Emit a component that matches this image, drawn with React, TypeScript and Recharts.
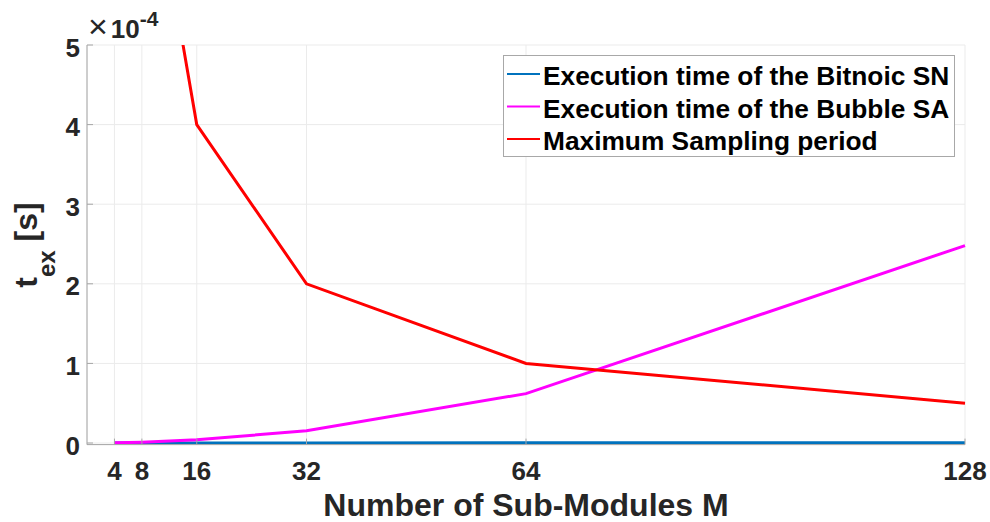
import React from "react";
import { LineChart, Line, XAxis, YAxis, CartesianGrid, Legend, Label } from "recharts";

// Number of sub-modules M
const subModules = [4, 8, 16, 32, 64, 128];
// Execution time of the Bitonic sorting network [s]
const bitonicTime = [1.2e-8, 3.6e-8, 8.0e-8, 1.5e-7, 2.5e-7, 3.9e-7];
// Execution time of the bubble sorting array [s]
const bubbleTime = [2.5e-7, 1.0e-6, 4.0e-6, 1.55e-5, 6.2e-5, 2.48e-4];
// Maximum sampling period [s]
const samplingPeriod = [1.6e-3, 8.0e-4, 4.0e-4, 2.0e-4, 1.0e-4, 5.0e-5];

const xTicks = [4, 8, 16, 32, 64, 128];
const yTicks = [0, 1e-4, 2e-4, 3e-4, 4e-4, 5e-4];

const seriesNames = [
  "Execution time of the Bitnoic SN",
  "Execution time of the Bubble SA",
  "Maximum Sampling period",
];
const seriesColors = ["#0072bd", "#ff00ff", "#ff0000"];

const data = subModules.map((m, i) => ({
  m,
  bitonic: bitonicTime[i],
  bubble: bubbleTime[i],
  sampling: samplingPeriod[i],
}));

const FONT = '"Liberation Sans", Arial, Helvetica, sans-serif';
const TEXT = "#262626";
const AXIS = "#a6a6a6";
const TICK_LEN = 6;

const W = 990;
const H = 522;
const PLOT_LEFT = 87;
const PLOT_RIGHT = 965;
const PLOT_TOP = 45;
// the lower edge sits a hair below zero so the series lying on zero keep their full stroke
const PLOT_BOTTOM = 444.6;
const Y_MIN = -2e-6;
const Y_MAX = 5e-4;

const XTick = (props: any) => {
  const { x, y, payload } = props;
  return (
    <g>
      <line x1={x} y1={y} x2={x} y2={y - TICK_LEN} stroke={AXIS} strokeWidth={1} />
      <text x={x} y={480} textAnchor="middle" fontFamily={FONT} fontWeight="bold" fontSize={26} fill={TEXT}>
        {payload.value}
      </text>
    </g>
  );
};

const XTopTick = (props: any) => {
  const { x, y } = props;
  return <line x1={x} y1={y} x2={x} y2={y + TICK_LEN} stroke={AXIS} strokeWidth={1} />;
};

const YTick = (props: any) => {
  const { x, y, payload } = props;
  return (
    <g>
      <line x1={x} y1={y} x2={x + TICK_LEN} y2={y} stroke={AXIS} strokeWidth={1} />
      <text x={x - 7} y={y + 11.5} textAnchor="end" fontFamily={FONT} fontWeight="bold" fontSize={26} fill={TEXT}>
        {Math.round(payload.value * 1e4)}
      </text>
    </g>
  );
};

const YRightTick = (props: any) => {
  const { x, y } = props;
  return <line x1={x} y1={y} x2={x - TICK_LEN} y2={y} stroke={AXIS} strokeWidth={1} />;
};

const XTitle = () => (
  <text x={(PLOT_LEFT + PLOT_RIGHT) / 2} y={516} textAnchor="middle" fontFamily={FONT} fontWeight="bold" fontSize={32} fill={TEXT}>
    Number of Sub-Modules M
  </text>
);

const YTitle = () => (
  <text
    x={37}
    y={245}
    transform="rotate(-90 37 245)"
    textAnchor="middle"
    fontFamily={FONT}
    fontWeight="bold"
    fontSize={32}
    fill={TEXT}
  >
    t
    <tspan fontSize={24} dy={18}>ex</tspan>
    <tspan dy={-18}> [s]</tspan>
  </text>
);

const Exponent = () => (
  <text x={88} y={38} fontFamily={FONT} fontSize={26} fill={TEXT}>
    <tspan fontWeight="normal" fontSize={34}>×</tspan>
    <tspan fontWeight="bold" dx={3}>10</tspan>
    <tspan fontWeight="bold" fontSize={21} dy={-12}>-4</tspan>
  </text>
);

const LegendBox = (props: any) => {
  const payload = props.payload || [];
  return (
    <svg width={452} height={102} style={{ display: "block" }}>
      <rect x={0.5} y={0.5} width={451} height={101} fill="#ffffff" stroke="#a8a8a8" strokeWidth={1} />
      {payload.map((entry: any, i: number) => (
        <g key={i}>
          <line x1={4} y1={19 + i * 32.5} x2={37} y2={19 + i * 32.5} stroke={entry.color} strokeWidth={2} />
          <text x={40} y={30 + i * 32.5} fontFamily={FONT} fontWeight="bold" fontSize={26.3} fill="#000000">
            {entry.value}
          </text>
        </g>
      ))}
    </svg>
  );
};

export default function App() {
  return (
    <div style={{ position: "absolute", left: 0, top: 0, width: W, height: H, background: "#ffffff" }}>
      <LineChart
        width={W}
        height={H}
        data={data}
        margin={{ top: PLOT_TOP, right: W - PLOT_RIGHT, bottom: 0, left: 0 }}
      >
        <CartesianGrid stroke="#ebebeb" strokeWidth={1} />
        <XAxis
          dataKey="m"
          type="number"
          domain={[0, 128]}
          ticks={xTicks}
          height={H - PLOT_BOTTOM}
          tickSize={0}
          tickMargin={0}
          tick={XTick}
          axisLine={{ stroke: AXIS, strokeWidth: 1 }}
          tickLine={false}
          interval={0}
        >
          <Label content={XTitle} />
        </XAxis>
        <XAxis
          xAxisId="top"
          orientation="top"
          dataKey="m"
          type="number"
          domain={[0, 128]}
          ticks={xTicks}
          height={0}
          tickSize={0}
          tickMargin={0}
          tick={XTopTick}
          axisLine={{ stroke: AXIS, strokeWidth: 1 }}
          tickLine={false}
          interval={0}
        />
        <YAxis
          type="number"
          domain={[Y_MIN, Y_MAX]}
          allowDataOverflow
          ticks={yTicks}
          width={PLOT_LEFT}
          tickSize={0}
          tickMargin={0}
          tick={YTick}
          axisLine={{ stroke: AXIS, strokeWidth: 1 }}
          tickLine={false}
          interval={0}
        >
          <Label content={YTitle} />
          <Label content={Exponent} />
        </YAxis>
        <YAxis
          yAxisId="right"
          orientation="right"
          type="number"
          domain={[Y_MIN, Y_MAX]}
          allowDataOverflow
          ticks={yTicks}
          width={0}
          tickSize={0}
          tickMargin={0}
          tick={YRightTick}
          axisLine={{ stroke: AXIS, strokeWidth: 1 }}
          tickLine={false}
          interval={0}
        />
        <Legend
          layout="vertical"
          align="center"
          verticalAlign="middle"
          content={LegendBox}
          wrapperStyle={{ left: 503, top: 55, width: 452, height: 102 }}
        />
        <Line
          dataKey="bitonic"
          name={seriesNames[0]}
          stroke={seriesColors[0]}
          strokeWidth={3}
          dot={false}
          isAnimationActive={false}
        />
        <Line
          dataKey="bubble"
          name={seriesNames[1]}
          stroke={seriesColors[1]}
          strokeWidth={3}
          dot={false}
          isAnimationActive={false}
        />
        <Line
          dataKey="sampling"
          name={seriesNames[2]}
          stroke={seriesColors[2]}
          strokeWidth={3}
          dot={false}
          isAnimationActive={false}
        />
      </LineChart>
    </div>
  );
}
